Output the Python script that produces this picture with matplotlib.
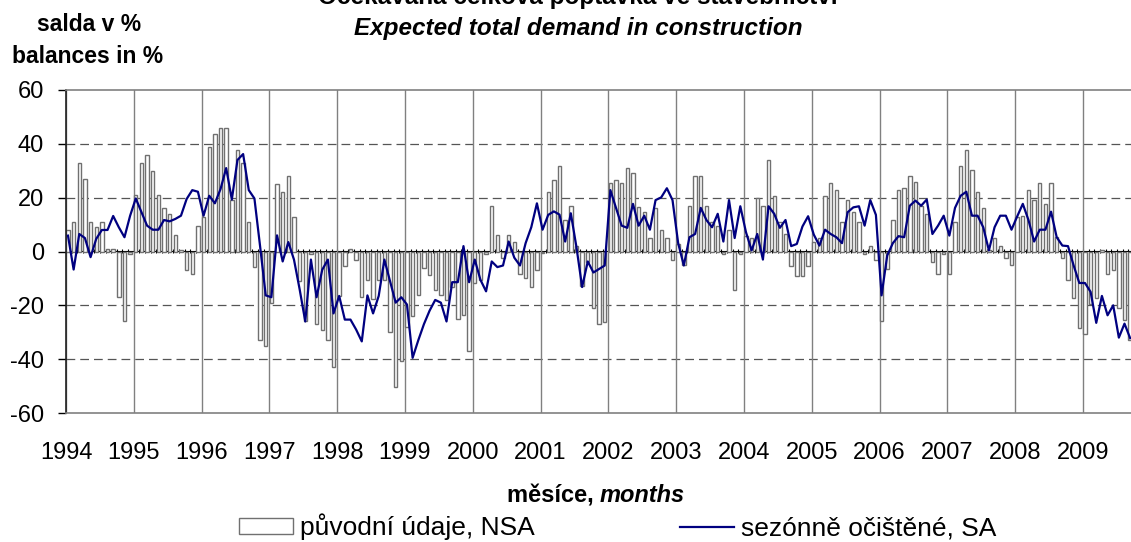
import numpy as np
import matplotlib
matplotlib.use('Agg')
import matplotlib.pyplot as plt
from matplotlib.patches import Patch
from matplotlib.lines import Line2D

plt.rcParams['font.family'] = ['Liberation Sans', 'DejaVu Sans']
plt.rcParams['axes.unicode_minus'] = False

# měsíční data 1994/01 - 2009/09
years = [str(y) for y in range(1994, 2010)]

# původní údaje, NSA
nsa = [
    8, 11, 33, 27, 11, 9, 11, 1, 1, -17, -26, -1,                          # 1994
    21, 33, 36, 30, 21, 16, 14, 6, 0.5, -6.7, -8.3, 9.6,                   # 1995
    13, 39, 43.6, 46, 46, 19, 37.7, 33, 11, -5.6, -33, -35,                # 1996
    -19, 25, 22, 28, 13, -11, -26, -1, -27, -29, -33, -43,                 # 1997
    -16.5, -5.5, 0.8, -3, -17, -10.5, -17.5, -10.5, -10.5, -30, -50.5, -40.7,  # 1998
    -28, -24, -16.3, -6, -8.9, -14.2, -16.3, -17.9, -13.2, -25, -23.7, -37,    # 1999
    -11.7, -10.5, -1, 17, 6, -2.3, 6, 3.5, -8.3, -10, -13.2, -6.8,         # 2000
    -0.7, 22.2, 26.7, 31.9, 11.7, 16.8, 2, -13, -4, -20.9, -26.8, -26.2,   # 2001
    25.3, 26.7, 25.3, 31.2, 29, 16.4, 14.8, 5, 16.2, 8.1, 5, -3,           # 2002
    2.8, -5, 16.8, 28.1, 28.1, 16.8, 11.1, 9.6, -0.9, 8.1, -14.4, -0.9,    # 2003
    5.9, 5, 19.9, 16.8, 34, 20.7, 11.1, 6.5, -5.4, -9.1, -9.1, -5.4,       # 2004
    3.5, 5, 20.7, 25.3, 22.8, 11.1, 19.3, 14.8, 11.1, -0.9, 2, -3,         # 2005
    -26, -6.4, 11.7, 22.8, 23.6, 28.1, 25.7, 16.8, 14, -4, -8.3, -0.9,     # 2006
    -8.3, 11.1, 31.9, 37.7, 30.2, 22.2, 16.2, 0.7, 5, 2, -2.3, -5.2,       # 2007
    13, 13.3, 22.8, 19.3, 25.3, 17.7, 25.3, 5.3, -2.3, -10.5, -17.2, -28.3,  # 2008
    -30.5, -19.5, -17.2, 0.7, -8.3, -6.8, -20.9, -25.3, -32.7,             # 2009
]

# sezónně očištěné, SA
sa = [
    5.9, -6.7, 6.5, 5, -2.1, 4.7, 8, 8, 13.2, 9, 5.3, 13.3,
    19.7, 14.6, 9.6, 8.1, 8.1, 11.7, 11.2, 12.1, 13.3, 19.5, 22.8, 22.2,
    13.3, 20.7, 17.9, 23.2, 31, 19.3, 34, 36.2, 22.8, 19.7, 2, -16.3,
    -17, 6, -3.7, 3.5, -3, -14, -26, -3, -17, -6.8, -3, -23,
    -16.5, -25.3, -25.3, -29, -33.4, -16.3, -23, -16.5, -3, -11, -19, -17,
    -19.7, -39.5, -33, -27, -22, -18, -19, -26, -11.4, -11.4, 2, -11.4,
    -3, -10.5, -14.8, -3.7, -5.8, -5.2, 3.7, -2.3, -5.2, 3.1, 9, 17.9,
    8.1, 13.6, 14.9, 13.7, 3.7, 14.2, 1.6, -13.2, -3.7, -7.8, -6.5, -5.2,
    22.8, 16.2, 9.6, 8.8, 17.7, 9.6, 13.3, 8.1, 19.1, 20.1, 23.5, 19.1,
    3.1, -5.2, 5.3, 6.5, 16.2, 11.7, 9, 14, 3.7, 19.1, 5, 16.8,
    7.2, 0.4, 6.5, -3, 16.8, 14, 8.8, 11.7, 2, 2.8, 9.3, 13.1,
    6.3, 2.2, 8.1, 6.5, 5.3, 3.1, 14.6, 16.4, 16.8, 9.6, 19.1, 13.6,
    -16.3, -1.5, 3.1, 5.7, 5.3, 17, 18.9, 17, 19.3, 6.5, 9.6, 13.3,
    5.9, 16.2, 20.7, 22.2, 13.3, 13.3, 9, 0.4, 9, 13.3, 13.3, 8.1,
    13, 17.7, 11.7, 3.7, 8.1, 8.1, 14.8, 5.3, 2.2, 2, -5.2, -11.7,
    -11.7, -15, -26.5, -16.5, -23.7, -20, -32, -26.8, -32.2,
]

x = np.arange(len(nsa)) + 0.35

fig = plt.figure(figsize=(11.31, 5.42), dpi=100)
W, H = 1131, 542
ax = fig.add_axes([66 / W, 1 - 413 / H, 1 - 66 / W, (413 - 90) / H])

ax.bar(x, nsa, width=0.6, color='white', edgecolor='#707070', linewidth=1.0, zorder=2)
ax.plot(x, sa, color='#000080', linewidth=1.6, zorder=3)

ax.set_xlim(0, 188.5)
ax.set_ylim(-60, 60)
ax.set_yticks(np.arange(-60, 61, 20))
ax.set_xticks(np.arange(0, 181, 12), labels=years)
ax.tick_params(axis='x', length=0, pad=21, labelsize=17)
ax.tick_params(axis='y', length=6, width=1, direction='out', labelsize=17, pad=10)

for v in (-40, -20, 20, 40):
    ax.axhline(v, color='#555555', linewidth=0.9, dashes=(7, 4), zorder=1)
ax.grid(axis='x', color='#808080', linewidth=1, zorder=1)

for s in ('top', 'bottom'):
    ax.spines[s].set_color('#808080')
    ax.spines[s].set_linewidth(1.2)
ax.spines['right'].set_visible(False)
ax.spines['left'].set_color('#202020')
ax.spines['left'].set_linewidth(1.2)

# kategoriová osa v nule s měsíčními značkami
sec = ax.secondary_xaxis(0.5)
sec.set_xticks(np.arange(0, 189), labels=[])
sec.tick_params(length=3, width=0.8, direction='inout', color='black')
sec.spines['bottom'].set_color('black')
sec.spines['bottom'].set_linewidth(1.2)

fig.text(578 / W, 1 - 4 / H, 'Očekávaná celková poptávka ve stavebnictví',
         ha='center', va='baseline', fontsize=17.5, fontweight='bold')
fig.text(578 / W, 1 - 35 / H, 'Expected total demand in construction',
         ha='center', va='baseline', fontsize=17.5, fontweight='bold', style='italic')
fig.text(89 / W, 1 - 31 / H, 'salda v %', ha='center', va='baseline',
         fontsize=16.5, fontweight='bold')
fig.text(88 / W, 1 - 63 / H, 'balances in %', ha='center', va='baseline',
         fontsize=16.5, fontweight='bold')

fig.text(600 / W, 1 - 502 / H, 'měsíce, ', ha='right', va='baseline',
         fontsize=17, fontweight='bold')
fig.text(600 / W, 1 - 502 / H, 'months', ha='left', va='baseline',
         fontsize=17, fontweight='bold', style='italic')

handles = [Patch(facecolor='white', edgecolor='#707070', linewidth=1.0),
           Line2D([], [], color='#000080', linewidth=1.6)]
fig.legend(handles, ['původní údaje, NSA', 'sezónně očištěné, SA'],
           loc='center', bbox_to_anchor=(618 / W, 1 - 527 / H), ncol=2,
           frameon=False, fontsize=19, handlelength=2.05, handleheight=0.6,
           handletextpad=0.27, columnspacing=5.5, borderpad=0)

fig.savefig('out.png', dpi=100)
